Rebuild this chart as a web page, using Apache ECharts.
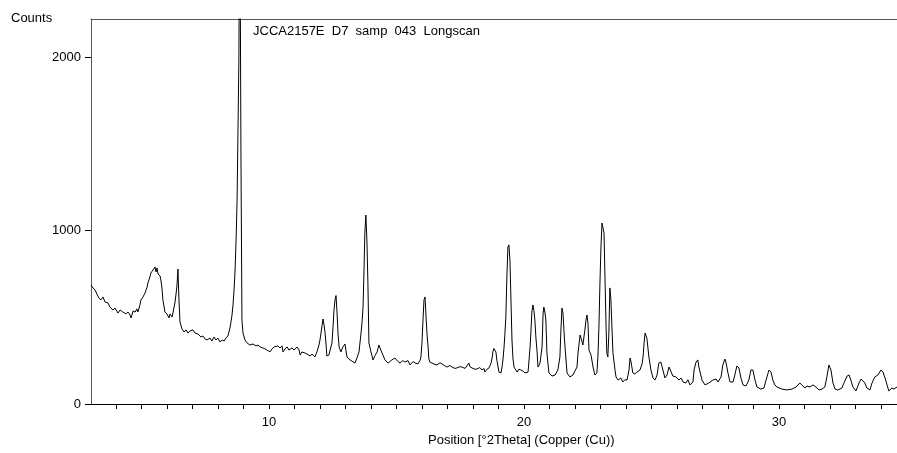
<!DOCTYPE html>
<html>
<head>
<meta charset="utf-8">
<script src="https://cdn.jsdelivr.net/npm/echarts@6/dist/echarts.min.js"></script>
<style>
html,body{margin:0;padding:0;background:#fff;}
#chart{width:897px;height:453px;}
</style>
</head>
<body>
<div id="chart"></div>
<script>
// 2Theta positions (degrees)
const twoTheta = [
3.02,3.10,3.18,3.25,3.33,3.41,3.49,3.57,3.69,3.76,3.88,3.96,4.08,4.16,4.27,4.39,4.47,4.55,4.59,4.67,
4.75,4.82,4.86,4.94,4.98,5.06,5.14,5.22,5.25,5.33,5.37,5.45,5.53,5.57,5.61,5.65,5.73,5.76,5.80,5.84,
5.92,6.00,6.08,6.12,6.20,6.24,6.31,6.35,6.39,6.43,6.47,6.51,6.59,6.67,6.75,6.82,6.90,7.02,7.10,7.22,
7.33,7.41,7.49,7.57,7.69,7.76,7.84,7.92,8.00,8.08,8.16,8.24,8.31,8.39,8.43,8.47,8.51,8.55,8.59,8.63,
8.67,8.71,8.75,8.78,8.82,8.84,8.86,8.90,8.94,8.98,9.06,9.14,9.25,
9.37,9.49,9.57,9.65,9.76,9.84,9.92,10.04,10.12,10.20,10.27,10.35,10.43,10.51,10.55,10.63,10.71,10.78,10.90,10.98,
11.10,11.18,11.22,11.29,11.41,11.49,11.61,11.69,11.80,11.88,11.96,12.00,12.08,12.12,12.16,12.20,12.24,12.27,12.35,12.39,
12.47,12.51,12.55,12.59,12.63,12.67,12.71,12.75,12.82,12.90,12.98,13.06,13.18,13.25,13.37,13.45,13.53,13.61,13.65,13.69,
13.73,13.76,13.80,13.84,13.88,13.92,14.00,14.08,14.16,14.24,14.31,14.39,14.47,14.55,14.67,
14.82,14.94,15.06,15.14,15.25,15.33,15.45,15.53,15.65,15.73,15.84,15.92,15.96,16.00,16.04,16.08,16.12,16.16,16.20,16.24,
16.27,16.31,16.39,16.51,16.59,16.71,16.78,16.90,16.98,17.10,17.18,17.29,17.37,17.49,17.57,17.69,17.76,17.84,17.88,17.96,
18.08,18.16,18.27,18.35,18.43,18.47,18.55,18.63,18.71,18.75,18.78,18.82,18.86,18.90,18.94,19.02,19.10,19.14,19.18,19.22,
19.25,19.29,19.33,19.37,19.41,19.45,19.49,19.53,19.57,19.61,19.73,19.80,19.88,19.96,20.04,20.16,20.20,20.24,20.27,20.31,
20.35,20.39,20.43,20.47,20.51,20.55,20.63,20.71,20.75,20.78,20.82,20.86,20.90,20.98,21.10,21.22,21.33,21.41,21.45,21.49,
21.53,21.57,21.61,21.69,21.80,21.92,22.08,22.12,22.20,22.24,22.27,22.31,22.39,22.43,22.47,22.51,22.55,22.63,22.71,22.78,
22.86,22.90,22.94,22.98,23.02,23.06,23.10,23.14,23.18,23.22,23.25,23.29,23.33,23.37,23.41,23.45,23.49,23.57,23.61,23.69,
23.80,23.88,23.96,24.04,24.12,24.16,24.20,24.27,24.35,24.43,24.55,24.63,24.67,24.71,24.75,24.78,24.82,24.90,24.98,25.06,
25.14,25.22,25.29,25.37,25.45,25.53,25.61,25.69,25.76,25.84,25.96,26.08,26.16,26.24,26.35,26.43,26.51,26.63,26.67,26.75,
26.82,26.86,26.98,27.10,27.25,27.41,27.53,27.61,27.73,27.80,27.88,27.92,28.00,28.08,28.20,28.27,28.35,28.43,28.51,28.59,
28.71,28.82,28.90,28.98,29.06,29.14,29.29,29.41,29.53,29.61,29.69,29.76,29.84,29.92,30.12,30.31,30.51,30.67,30.82,30.94,
31.02,31.10,31.22,31.33,31.45,31.57,31.69,31.80,31.88,31.96,32.00,32.04,32.12,32.20,32.31,32.47,32.55,32.67,32.75,32.82,
32.90,33.02,33.14,33.22,33.29,33.37,33.45,33.57,33.65,33.76,33.88,34.00,34.08,34.16,34.24,34.31,34.43,34.51,34.63
];
// Intensity (counts)
const counts = [
686,669,657,634,611,600,617,588,582,559,542,553,524,542,530,519,530,513,496,536,
530,548,530,571,600,617,640,674,697,732,755,772,790,761,784,749,738,715,674,600,
530,519,496,519,501,530,582,628,680,778,600,473,432,415,427,409,421,427,409,403,
386,392,375,369,380,363,386,369,380,357,369,363,380,392,415,438,473,513,571,657,
772,945,1176,1522,1983,2600,2900,1464,484,409,369,352,340,
346,335,340,329,323,318,311,300,318,329,323,335,323,335,300,318,329,311,323,311,
329,311,282,300,294,288,277,288,271,300,340,369,450,490,455,410,340,277,282,277,
352,440,542,600,625,524,400,329,300,329,346,271,254,260,236,265,300,409,470,559,
790,986,1089,945,697,352,300,254,280,300,340,310,282,254,236,
254,265,245,236,250,242,250,225,245,236,231,250,271,352,484,600,617,501,400,329,
260,242,236,228,225,238,231,220,213,222,213,205,208,215,213,205,208,236,215,208,
200,202,210,196,205,184,200,208,236,265,300,320,318,300,250,184,179,213,260,329,
400,501,732,905,917,830,600,369,260,213,184,200,196,190,179,184,254,330,409,530,
571,540,480,380,311,213,236,329,524,559,530,484,294,179,161,167,196,271,427,553,
524,420,329,179,156,167,213,294,398,380,369,340,427,480,513,467,311,282,213,167,
179,271,444,697,905,1043,1049,986,715,444,294,271,409,669,600,444,294,196,156,138,
150,127,140,138,196,265,242,179,173,184,196,230,271,350,409,400,380,271,196,150,
138,167,236,242,196,150,167,213,208,161,156,138,150,127,121,140,110,127,196,242,
254,213,138,110,121,138,144,127,156,225,259,242,179,127,127,167,219,208,150,110,
104,138,196,196,138,98,86,92,156,196,184,138,110,98,86,81,86,98,121,104,
92,104,98,110,98,81,86,98,156,225,236,196,121,86,81,92,121,161,167,138,
98,75,121,144,150,121,92,81,121,156,167,196,184,150,110,75,92,86,98
];
// Axis ticks / labels
const xTicks = [4,5,6,7,8,9,10,11,12,13,14,15,16,17,18,19,20,21,22,23,24,25,26,27,28,29,30,31,32,33,34];
const xLabels = [10,20,30];
const yTicks = [0,1000,2000];

const chart = echarts.init(document.getElementById('chart'), null, {renderer:'canvas'});
const font = 'Liberation Sans, Arial, sans-serif';
chart.setOption({
  animation:false,
  backgroundColor:'#fff',
  grid:{left:91,right:0,top:19,bottom:49,containLabel:false},
  xAxis:[{
    type:'value',min:3.02,max:34.63,position:'bottom',
    axisLine:{show:true,onZero:false,lineStyle:{color:'#000',width:1}},
    axisTick:{show:true,inside:false,length:5,customValues:xTicks,lineStyle:{color:'#000'}},
    axisLabel:{show:true,margin:12,customValues:xLabels,color:'#000',fontSize:13,fontFamily:font,formatter:v=>String(v)},
    splitLine:{show:false}
  },{
    type:'value',min:3.02,max:34.63,position:'top',
    axisLine:{show:true,onZero:false,lineStyle:{color:'#555',width:1}},
    axisTick:{show:false},axisLabel:{show:false},splitLine:{show:false}
  }],
  yAxis:{
    type:'value',min:0,max:2219,
    axisLine:{show:true,onZero:false,lineStyle:{color:'#555',width:1}},
    axisTick:{show:true,inside:false,length:6,customValues:yTicks,lineStyle:{color:'#000'}},
    axisLabel:{show:true,margin:10,customValues:yTicks,color:'#000',fontSize:13,fontFamily:font,formatter:v=>String(v)},
    splitLine:{show:false}
  },
  graphic:[
    {type:'text',left:11,top:12,style:{text:'Counts',fill:'#000',font:'13px '+font}},
    {type:'text',left:253,top:25,style:{text:'JCCA2157E  D7  samp  043  Longscan',fill:'#000',font:'13px '+font}},
    {type:'text',left:428,top:434,style:{text:'Position [°2Theta] (Copper (Cu))',fill:'#000',font:'13px '+font}}
  ],
  series:[{
    type:'line',
    data:twoTheta.map((t,i)=>[t,counts[i]]),
    showSymbol:false,
    clip:true,
    lineStyle:{color:'#000',width:1},
    xAxisIndex:0
  }]
});
</script>
</body>
</html>
